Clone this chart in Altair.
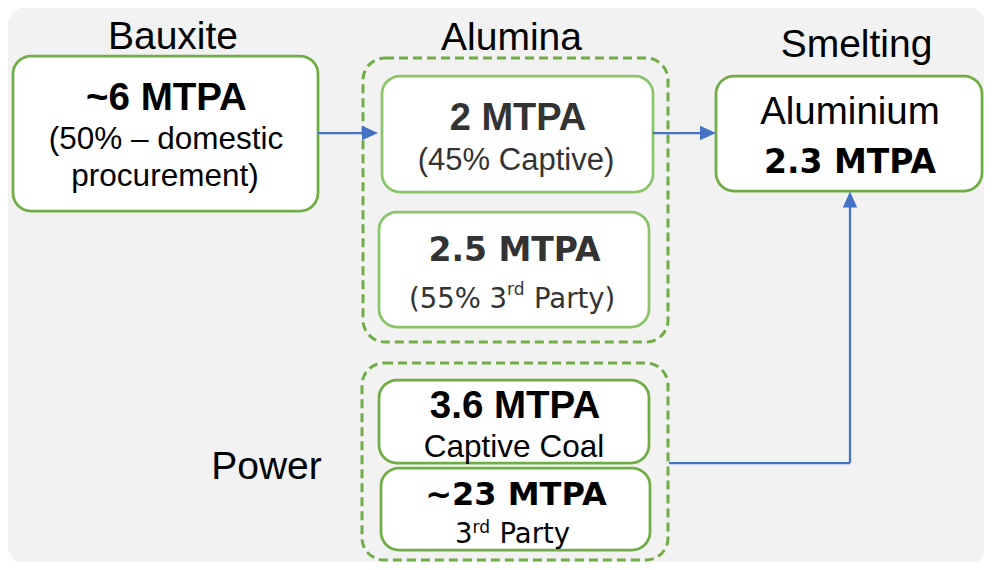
import altair as alt
import pandas as pd

# ---------------- content ----------------
stage_titles = ["Bauxite", "Alumina", "Smelting", "Power"]
bauxite_text = ["~6 MTPA", "(50% \u2013 domestic", "procurement)"]
alumina_captive_text = ["2 MTPA", "(45% Captive)"]
alumina_party_text = ["2.5 MTPA", "(55% 3", "rd", "Party)"]
smelting_text = ["Aluminium", "2.3 MTPA"]
power_coal_text = ["3.6 MTPA", "Captive Coal"]
power_party_text = ["~23 MTPA", "3", "rd", "Party"]

# ---------------- styles ----------------
GREEN = "#70ad47"
LIGHT_GREEN = "#8cc46a"
BLUE = "#4472c4"
BG = "#f2f2f2"
ARIAL = "Liberation Sans"
WIDE = "DejaVu Sans"

# ---------------- layout (page pixel coordinates) ----------------
W, H = 976, 554
XS = alt.Scale(domain=[8, 8 + W], nice=False, zero=False)
YS = alt.Scale(domain=[8, 8 + H], nice=False, zero=False, reverse=True)

bg_box = dict(x0=[5], x1=[989], y0=[4], y1=[568])

box_x0 = [13, 382, 379, 716, 379, 381]
box_x1 = [318, 653, 649, 982, 649, 650]
box_y0 = [56, 76, 212, 76, 380, 468]
box_y1 = [211, 192, 327, 191, 463, 550]
box_stroke = [GREEN, LIGHT_GREEN, LIGHT_GREEN, GREEN, GREEN, GREEN]

dash_x0 = [363, 362]
dash_x1 = [668, 668]
dash_y0 = [58, 363]
dash_y1 = [342, 560]

line_x0 = [318, 653, 669, 850]
line_x1 = [364, 702, 850, 850]
line_y0 = [133, 133, 463, 463]
line_y1 = [133, 133, 463, 205]

head_right_x = [370, 708]
head_right_y = [133, 133]
head_up_x = [850]
head_up_y = [199.5]

# text items: (text, x, y, size, color, font, weight, align)
texts = []
for t, x, y in zip(stage_titles, [173, 511.5, 856.5, 266.5], [49, 50, 57, 479]):
    texts.append((t, x, y, 39, "#000000", ARIAL, "normal", "center"))
texts += [
    (bauxite_text[0], 166.5, 110, 38.5, "#000000", ARIAL, "bold", "center"),
    (bauxite_text[1], 166, 149, 31.5, "#000000", ARIAL, "normal", "center"),
    (bauxite_text[2], 165, 186, 31.5, "#000000", ARIAL, "normal", "center"),
    (alumina_captive_text[0], 518, 130, 38, "#333333", ARIAL, "bold", "center"),
    (alumina_captive_text[1], 516, 170, 31, "#333333", ARIAL, "normal", "center"),
    (alumina_party_text[0], 514.5, 261, 33, "#333333", WIDE, "bold", "center"),
    (alumina_party_text[1], 409, 308, 27.5, "#333333", WIDE, "normal", "left"),
    (alumina_party_text[2], 507, 295, 17, "#333333", WIDE, "normal", "left"),
    (alumina_party_text[3], 534, 308, 27.5, "#333333", WIDE, "normal", "left"),
    (smelting_text[0], 850, 124, 38.5, "#000000", ARIAL, "normal", "center"),
    (smelting_text[1], 850, 173, 33, "#000000", WIDE, "bold", "center"),
    (power_coal_text[0], 515, 418, 38.5, "#000000", ARIAL, "bold", "center"),
    (power_coal_text[1], 514, 457, 31.5, "#000000", ARIAL, "normal", "center"),
    (power_party_text[0], 516, 505, 32, "#000000", WIDE, "bold", "center"),
    (power_party_text[1], 455, 543, 27.5, "#000000", WIDE, "normal", "left"),
    (power_party_text[2], 472.5, 533, 17, "#000000", WIDE, "normal", "left"),
    (power_party_text[3], 499.5, 543, 27.5, "#000000", WIDE, "normal", "left"),
]
text_df = pd.DataFrame(texts, columns=["t", "x", "y", "s", "c", "font", "weight", "align"])


def rect_layer(df, **mark):
    return alt.Chart(df).mark_rect(**mark).encode(
        x=alt.X("x0:Q", scale=XS, axis=None),
        x2="x1:Q",
        y=alt.Y("y0:Q", scale=YS, axis=None),
        y2="y1:Q",
    )


bg = rect_layer(pd.DataFrame(bg_box), fill=BG, cornerRadius=30)

dash = rect_layer(
    pd.DataFrame(dict(x0=dash_x0, x1=dash_x1, y0=dash_y0, y1=dash_y1)),
    fill="#ffffff", fillOpacity=0, stroke=GREEN, strokeWidth=3,
    strokeDash=[9, 5], cornerRadius=22,
)

boxes = alt.Chart(
    pd.DataFrame(dict(x0=box_x0, x1=box_x1, y0=box_y0, y1=box_y1, sc=box_stroke))
).mark_rect(fill="#ffffff", strokeWidth=2.75, cornerRadius=18).encode(
    x=alt.X("x0:Q", scale=XS, axis=None),
    x2="x1:Q",
    y=alt.Y("y0:Q", scale=YS, axis=None),
    y2="y1:Q",
    stroke=alt.Stroke("sc:N", scale=None),
)

lines = alt.Chart(
    pd.DataFrame(dict(x0=line_x0, x1=line_x1, y0=line_y0, y1=line_y1))
).mark_rule(color=BLUE, strokeWidth=2.25).encode(
    x=alt.X("x0:Q", scale=XS, axis=None),
    x2="x1:Q",
    y=alt.Y("y0:Q", scale=YS, axis=None),
    y2="y1:Q",
)

heads_r = alt.Chart(pd.DataFrame(dict(x=head_right_x, y=head_right_y))).mark_point(
    shape="M-1,-0.9L1,0L-1,0.9Z", filled=True, size=256, color=BLUE, opacity=1, strokeWidth=0
).encode(x=alt.X("x:Q", scale=XS, axis=None), y=alt.Y("y:Q", scale=YS, axis=None))

heads_u = alt.Chart(pd.DataFrame(dict(x=head_up_x, y=head_up_y))).mark_point(
    shape="M-0.9,1L0,-1L0.9,1Z", filled=True, size=256, color=BLUE, opacity=1, strokeWidth=0
).encode(x=alt.X("x:Q", scale=XS, axis=None), y=alt.Y("y:Q", scale=YS, axis=None))

text_layers = []
for (font, weight, align), sub in text_df.groupby(["font", "weight", "align"]):
    text_layers.append(
        alt.Chart(sub).mark_text(font=font, fontWeight=weight, align=align, baseline="alphabetic").encode(
            x=alt.X("x:Q", scale=XS, axis=None),
            y=alt.Y("y:Q", scale=YS, axis=None),
            text="t:N",
            size=alt.Size("s:Q", scale=None),
            color=alt.Color("c:N", scale=None),
        )
    )

chart = alt.layer(bg, dash, boxes, lines, heads_r, heads_u, *text_layers).properties(
    width=W, height=H, padding=0, background="#ffffff",
    autosize=alt.AutoSizeParams(type="none"),
).configure_view(strokeWidth=0)

chart.save("out.html", embed_options={"renderer": "svg", "actions": False})
